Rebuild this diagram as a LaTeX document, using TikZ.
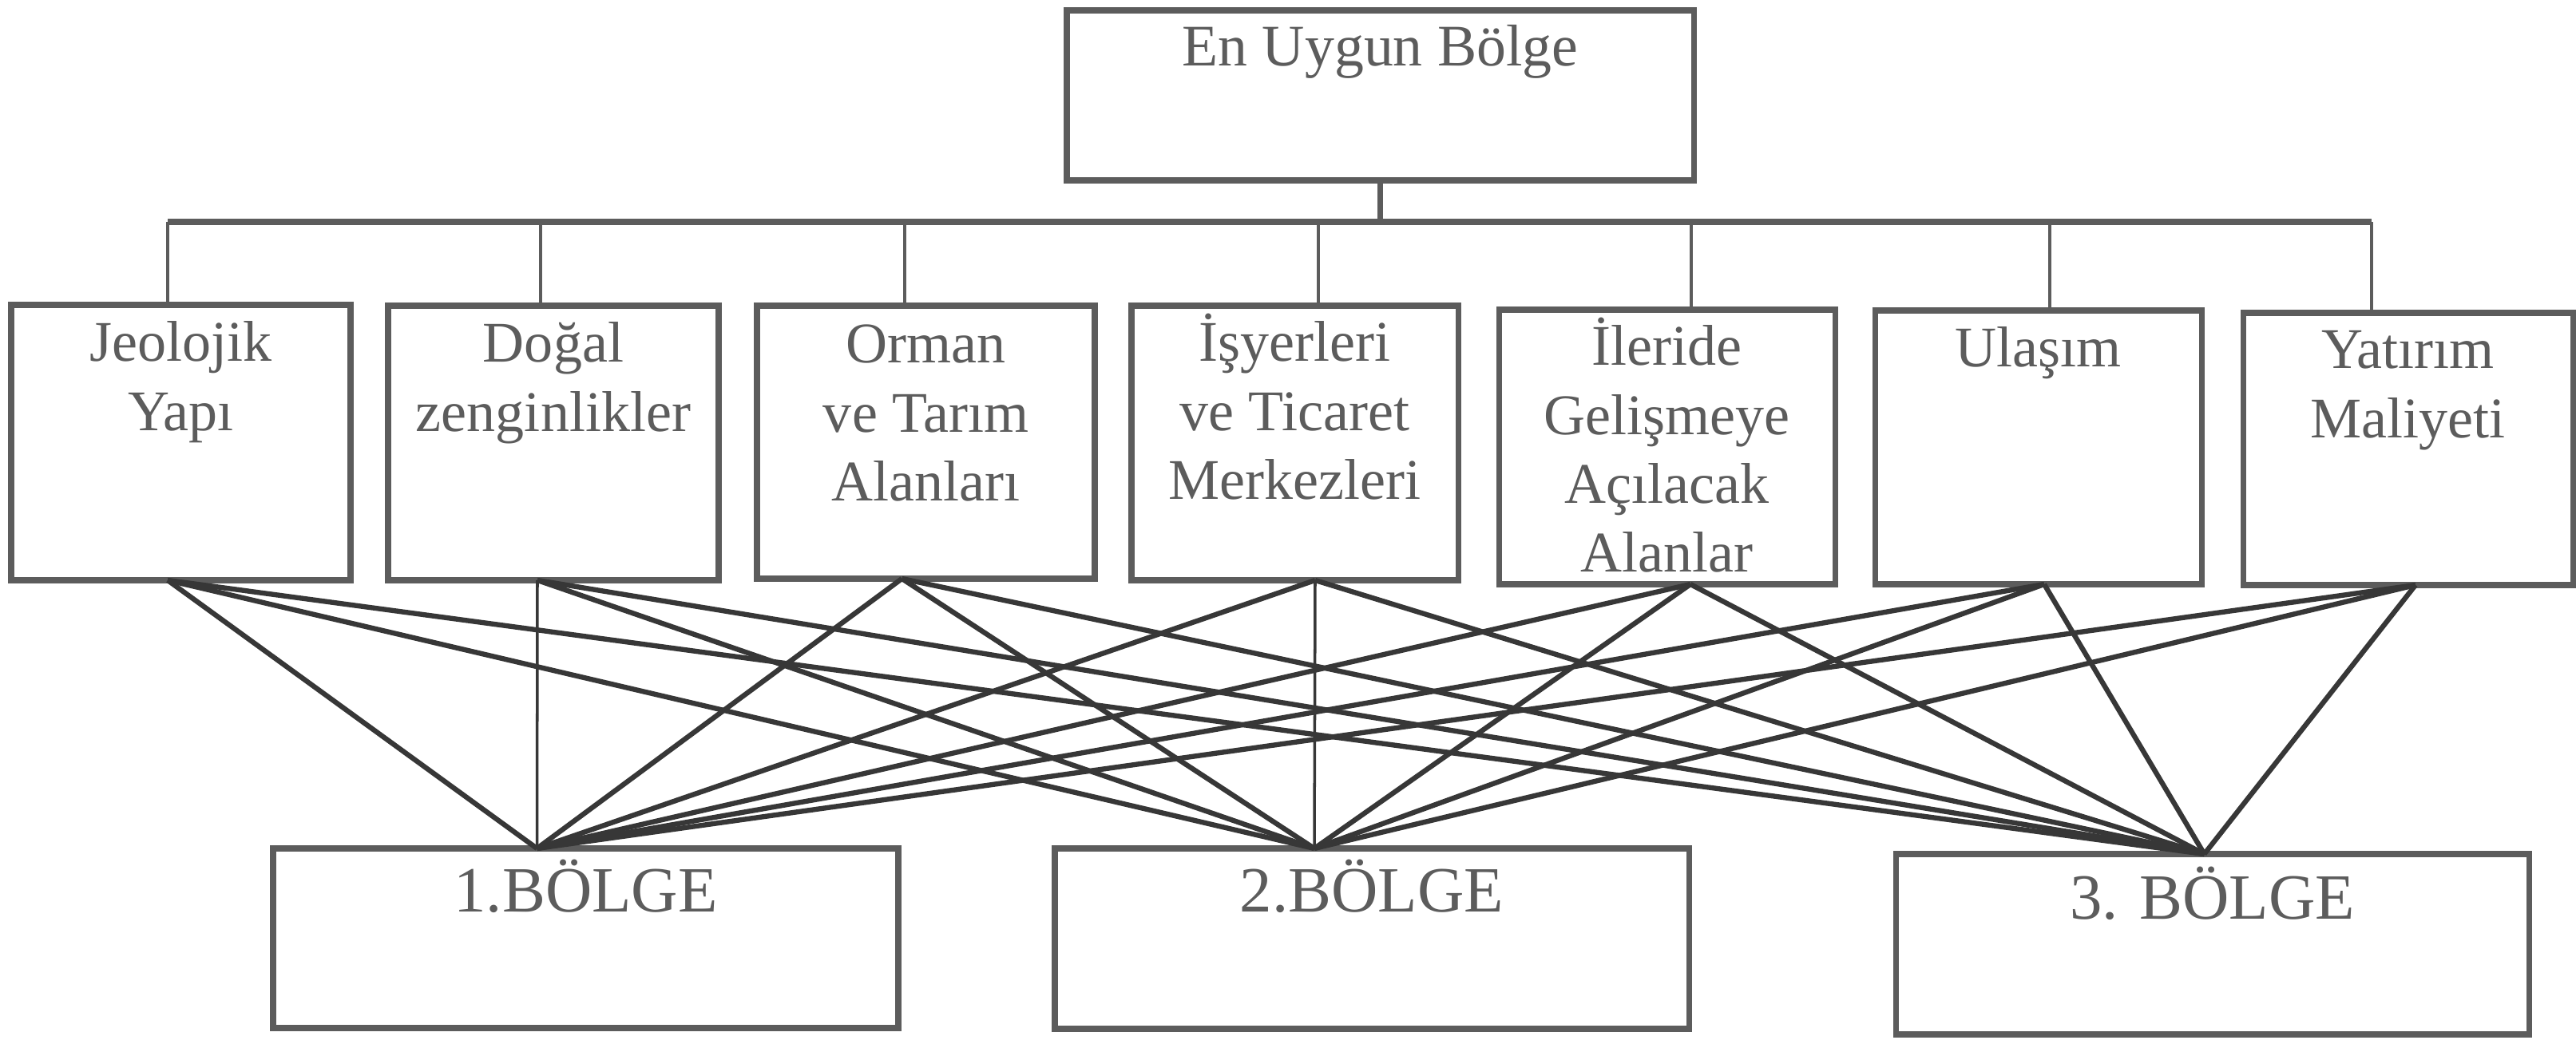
\documentclass[tikz,border=0pt]{standalone}
\usepackage{fontspec}
\setmainfont{Liberation Serif}
\definecolor{ink}{RGB}{92,92,92}
\definecolor{wire}{RGB}{55,55,55}
\newcommand\cellstack[1]{\parbox[t]{4.1cm}{\centering #1}}
\begin{document}
\begin{tikzpicture}[
  box/.style={draw=ink, line width=2pt, fill=white, rectangle, inner sep=0pt, outer sep=0pt},
  lbl/.style={text=ink, inner sep=0pt, outer sep=0pt, anchor=base},
  midfont/.style={font=\fontsize{20.5}{24.5}\selectfont},
  bus/.style={draw=ink, line width=2pt},
  drop/.style={draw=ink, line width=1.2pt},
  fan/.style={draw=wire, line width=1.8pt},
  plumb/.style={draw=wire, line width=1pt},
]
\useasboundingbox (0,0) rectangle (32.26,-13.03);

% goal
\node[box, minimum width=7.85cm, minimum height=2.13cm] (top) at (17.285,-1.195) {};
\node[lbl, font=\fontsize{21}{25}\selectfont] (toptxt) at ([yshift=-0.70cm]top.north) {En Uygun Bölge};

% criteria
\node[box, minimum width=4.25cm, minimum height=3.45cm] (m1) at (2.265,-5.545) {};
\node[box, minimum width=4.14cm, minimum height=3.44cm] (m2) at (6.93,-5.55) {};
\node[box, minimum width=4.23cm, minimum height=3.42cm] (m3) at (11.595,-5.54) {};
\node[box, minimum width=4.09cm, minimum height=3.44cm] (m4) at (16.215,-5.55) {};
\node[box, minimum width=4.21cm, minimum height=3.44cm] (m5) at (20.875,-5.60) {};
\node[box, minimum width=4.09cm, minimum height=3.43cm] (m6) at (25.525,-5.605) {};
\node[box, minimum width=4.13cm, minimum height=3.41cm] (m7) at (30.155,-5.625) {};

\node[lbl, midfont] (t1) at ([yshift=-0.71cm]m1.north) {\cellstack{Jeolojik\\Yapı}};
\node[lbl, midfont] (t2) at ([yshift=-0.71cm]m2.north) {\cellstack{Doğal\\zenginlikler}};
\node[lbl, midfont] (t3) at ([yshift=-0.72cm]m3.north) {\cellstack{Orman\\ve Tarım\\Alanları}};
\node[lbl, midfont] (t4) at ([yshift=-0.70cm]m4.north) {\cellstack{İşyerleri\\ve Ticaret\\Merkezleri}};
\node[lbl, midfont] (t5) at ([yshift=-0.70cm]m5.north) {\cellstack{İleride\\Gelişmeye\\Açılacak\\Alanlar}};
\node[lbl, midfont] (t6) at ([yshift=-0.71cm]m6.north) {\cellstack{Ulaşım}};
\node[lbl, midfont] (t7) at ([yshift=-0.70cm]m7.north) {\cellstack{Yatırım\\Maliyeti}};

% alternatives
\node[box, minimum width=7.83cm, minimum height=2.25cm] (b1) at (7.335,-11.755) {};
\node[box, minimum width=7.94cm, minimum height=2.26cm] (b2) at (17.18,-11.76) {};
\node[box, minimum width=7.93cm, minimum height=2.26cm] (b3) at (27.705,-11.83) {};

\node[lbl, font=\fontsize{23}{27}\selectfont] (bt1) at ([yshift=-0.80cm]b1.north) {1.BÖLGE};
\node[lbl, font=\fontsize{23}{27}\selectfont] (bt2) at ([yshift=-0.80cm]b2.north) {2.BÖLGE};
\node[lbl, font=\fontsize{23}{27}\selectfont] (bt3) at ([yshift=-0.82cm]b3.north) {3. BÖLGE};

% tree from the goal to the criteria
\coordinate (busy) at (0,-2.78);
\draw[bus] (top.south) -- (top.south |- busy);
\draw[bus] ([xshift=-0.165cm]m1.north |- busy) -- ([xshift=-0.455cm]m7.north |- busy);
\draw[drop] ([xshift=-0.165cm]m1.north) -- ([xshift=-0.165cm]m1.north |- busy);
\draw[drop] ([xshift=-0.16cm]m2.north) -- ([xshift=-0.16cm]m2.north |- busy);
\draw[drop] ([xshift=-0.265cm]m3.north) -- ([xshift=-0.265cm]m3.north |- busy);
\draw[drop] ([xshift=0.295cm]m4.north) -- ([xshift=0.295cm]m4.north |- busy);
\draw[drop] ([xshift=0.305cm]m5.north) -- ([xshift=0.305cm]m5.north |- busy);
\draw[drop] ([xshift=0.145cm]m6.north) -- ([xshift=0.145cm]m6.north |- busy);
\draw[drop] ([xshift=-0.455cm]m7.north) -- ([xshift=-0.455cm]m7.north |- busy);

% attachment points of the comparison lines
\coordinate (f1) at ([xshift=-0.165cm]m1.south);
\coordinate (f2) at ([xshift=-0.20cm]m2.south);
\coordinate (f3) at ([xshift=-0.30cm]m3.south);
\coordinate (f4) at ([xshift=0.255cm]m4.south);
\coordinate (f5) at ([xshift=0.295cm]m5.south);
\coordinate (f6) at ([xshift=0.075cm]m6.south);
\coordinate (f7) at ([xshift=0.095cm]m7.south);
\coordinate (g1) at ([xshift=-0.61cm]b1.north);
\coordinate (g2) at ([xshift=-0.72cm]b2.north);
\coordinate (g3) at ([xshift=-0.10cm]b3.north);

% every criterion joined to every alternative
\foreach \i/\j/\s in {1/1/fan,1/2/fan,1/3/fan,
                      2/1/plumb,2/2/fan,2/3/fan,
                      3/1/fan,3/2/fan,3/3/fan,
                      4/1/fan,4/2/plumb,4/3/fan,
                      5/1/fan,5/2/fan,5/3/fan,
                      6/1/fan,6/2/fan,6/3/fan,
                      7/1/fan,7/2/fan,7/3/fan}
  \draw[\s] (f\i) -- (g\j);
\end{tikzpicture}
\end{document}
